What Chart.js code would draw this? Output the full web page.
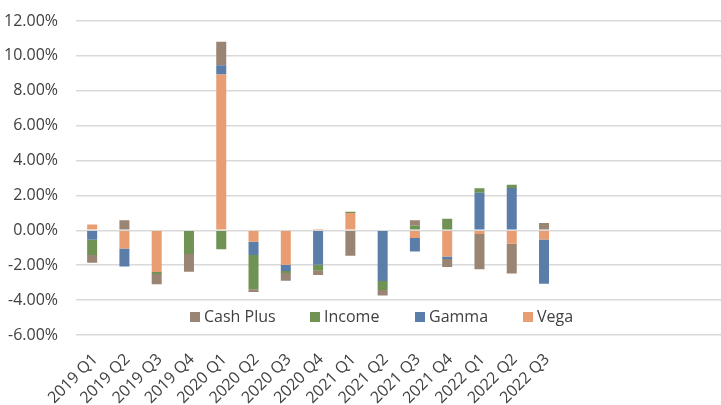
<!DOCTYPE html>
<html>
<head>
<meta charset="utf-8">
<script src="https://cdn.jsdelivr.net/npm/chart.js@4"></script>
<style>
  body { margin: 0; overflow: hidden; background: #fff; }
  .wrap { position: relative; width: 726px; height: 405px; }
  .legend { position: absolute; top: 305px; left: 0; font-family: 'Open Sans', sans-serif; font-size: 16px; color: #404040; }
  .legend span.item { position: absolute; white-space: nowrap; line-height: 22px; }
  .legend i { display: inline-block; width: 10px; height: 10px; margin-right: 4px; vertical-align: 0px; }
</style>
</head>
<body>
<div class="wrap">
  <canvas id="attrChart" width="726" height="405"></canvas>
  <div class="legend" id="legend"></div>
</div>
<script>
// quarters shown on the axis (the axis keeps 5 more empty slots on the right)
const quarters = ['2019 Q1', '2019 Q2', '2019 Q3', '2019 Q4', '2020 Q1', '2020 Q2', '2020 Q3', '2020 Q4',
                  '2021 Q1', '2021 Q2', '2021 Q3', '2021 Q4', '2022 Q1', '2022 Q2', '2022 Q3'];
const emptySlots = 5;

// contributions in %
const vega     = [0.33, -1.04, -2.39, 0.05, 8.94, -0.65, -1.98, 0.08, 1.00, 0, -0.44, -1.50, -0.21, -0.77, -0.52];
const gamma    = [-0.54, -1.04, 0, 0, 0.53, -0.77, -0.35, -1.98, 0, -2.90, -0.77, -0.14, 2.16, 2.43, -2.54];
const income   = [-0.87, 0, -0.12, -1.35, -1.08, -1.96, -0.12, -0.33, 0.07, -0.52, 0.27, 0.66, 0.25, 0.19, 0];
const cashPlus = [-0.45, 0.58, -0.58, -1.02, 1.34, -0.15, -0.44, -0.25, -1.46, -0.31, 0.31, -0.46, -2.02, -1.71, 0.42];

const yTicks = [-6, -4, -2, 0, 2, 4, 6, 8, 10, 12];

document.addEventListener('DOMContentLoaded', function() {
  const labels = quarters.concat(Array(emptySlots).fill(''));
  const font = { family: "'Open Sans', sans-serif", size: 16 };

  // first dataset sits next to zero, like the original stacking
  const series = [
    { label: 'Vega', data: vega, color: '#E99D73' },
    { label: 'Gamma', data: gamma, color: '#5A7EA9' },
    { label: 'Income', data: income, color: '#709252' },
    { label: 'Cash Plus', data: cashPlus, color: '#9A8575' }
  ];

  new Chart(document.getElementById('attrChart'), {
    type: 'bar',
    data: {
      labels: labels,
      datasets: series.map(s => ({
        label: s.label,
        data: s.data,
        backgroundColor: s.color,
        borderWidth: 0,
        categoryPercentage: 1,
        barPercentage: 0.31
      }))
    },
    options: {
      responsive: false,
      animation: false,
      devicePixelRatio: 1,
      layout: { padding: { top: 21, left: 0, right: 0, bottom: 0 } },
      plugins: { legend: { display: false }, tooltip: { enabled: false } },
      scales: {
        x: {
          stacked: true,
          grid: { display: false },
          border: { display: false },
          ticks: {
            font: font, color: '#404040',
            minRotation: 45, maxRotation: 45, autoSkip: false, padding: 7, labelOffset: 3
          },
          afterFit: function(scale) { scale.height = 70; }
        },
        y: {
          stacked: true,
          min: yTicks[0],
          max: yTicks[yTicks.length - 1],
          afterBuildTicks: function(scale) { scale.ticks = yTicks.map(v => ({ value: v })); },
          grid: { color: '#D9D9D9', lineWidth: 1.5, drawTicks: false },
          border: { display: false },
          ticks: {
            font: font, color: '#404040', padding: 18,
            callback: v => v.toFixed(2) + '%'
          },
          afterFit: function(scale) {
            scale.width = 76;
            scale.paddingTop = 0;
            scale.paddingBottom = 0;
          }
        }
      }
    }
  });

  // legend drawn inside the plot, order as in the original
  const legendEl = document.getElementById('legend');
  const legendItems = [['Cash Plus', '#9A8575', 190], ['Income', '#709252', 310], ['Gamma', '#5A7EA9', 415], ['Vega', '#E99D73', 523]];
  legendItems.forEach(it => {
    const span = document.createElement('span');
    span.className = 'item';
    span.style.left = it[2] + 'px';
    span.innerHTML = '<i style="background:' + it[1] + '"></i>' + it[0];
    legendEl.appendChild(span);
  });
});
</script>
</body>
</html>
